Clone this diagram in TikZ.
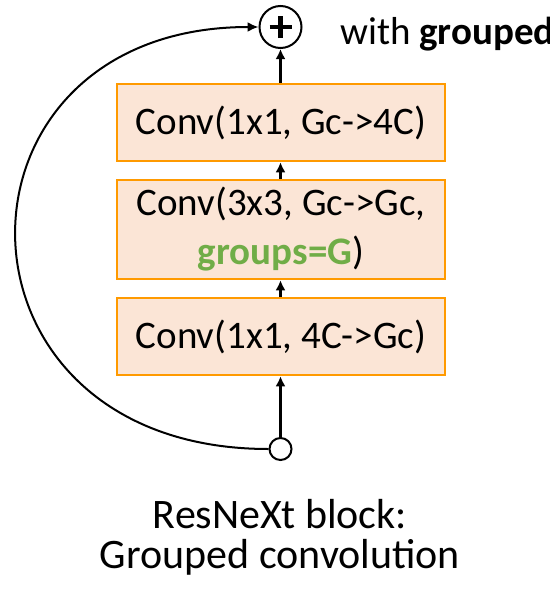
\documentclass[tikz,border=0pt]{standalone}
\usepackage{fontspec}
\setmainfont{Carlito}
\usetikzlibrary{arrows.meta}
\definecolor{boxfill}{HTML}{FBE5D6}
\definecolor{boxdraw}{HTML}{FF9A00}
\definecolor{grpgreen}{HTML}{70AD47}
\begin{document}
\begin{tikzpicture}[x=1pt,y=-1pt,
  convbox/.style={draw=boxdraw,fill=boxfill,line width=2.5pt,minimum width=328pt,inner sep=0pt,
    font=\fontsize{39}{49}\selectfont,align=center},
  arr/.style={line width=2.8pt,-{Latex[length=10pt,width=10pt]}},
  skiparr/.style={line width=2pt,-{Latex[length=11pt,width=10pt]}},
  dot/.style={circle,draw,line width=2pt,inner sep=0pt}]
\useasboundingbox (0,0) rectangle (549,597);
\clip (0,0) rectangle (549,597);
\node[convbox,minimum height=77pt] (b1) at (281,122.5) {Conv(1x1, Gc->4C)};
\node[convbox,minimum height=99pt] (b2) at (281,229.5) {Conv(3x3, Gc->Gc,\\{\bfseries\color{grpgreen}groups=G})};
\node[convbox,minimum height=77pt] (b3) at (281,336.5) {Conv(1x1, 4C->Gc)};
\node[dot,minimum size=42pt] (plus) at (280.5,27) {};
\draw[line width=4.5pt] ([xshift=-11pt]plus.center) -- ([xshift=11pt]plus.center)
  ([yshift=-11pt]plus.center) -- ([yshift=11pt]plus.center);
\node[dot,minimum size=22pt] (in) at (280.5,449) {};
\draw[arr] (in.north) -- (in.north |- b3.south);
\draw[arr] (in.north |- b3.north) -- (in.north |- b2.south);
\draw[arr] (in.north |- b2.north) -- (in.north |- b1.south);
\draw[arr] (in.north |- b1.north) -- (plus.south);
\draw[skiparr] (in.west) .. controls (-66,449) and (-66,27) .. (plus.west);
\node[anchor=base west,font=\fontsize{39}{44}\selectfont,inner sep=0pt] (with) at (340,44) {with \textbf{grouped}};
\node[align=center,font=\fontsize{42}{40}\selectfont,inner sep=0pt,anchor=base] (cap) at (280,568) {ResNeXt block:\\Grouped convolution};
\end{tikzpicture}
\end{document}
